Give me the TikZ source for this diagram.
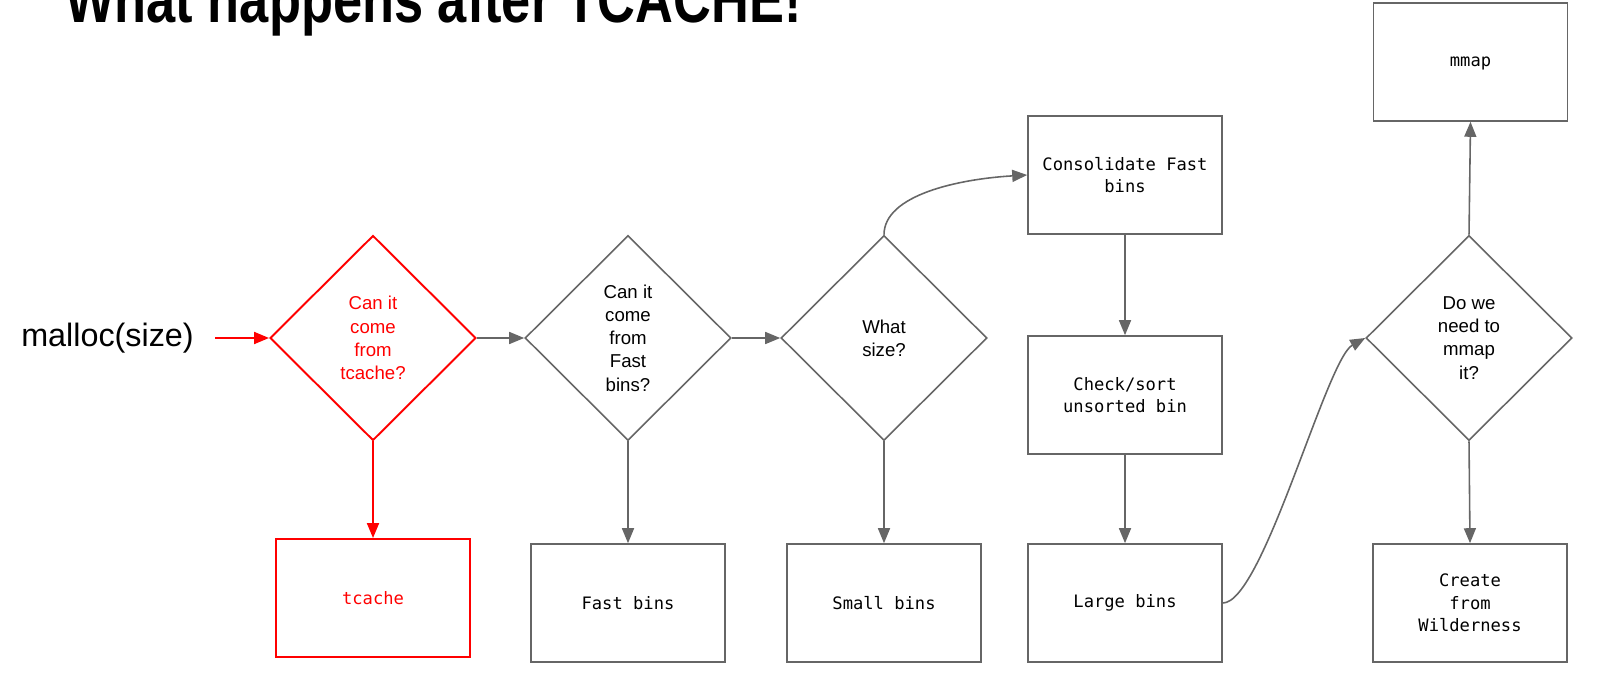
\documentclass[tikz,border=0pt]{standalone}
\usepackage{fontspec}
\setmainfont{Liberation Sans}
\newfontfamily\codefont{DejaVu Sans Mono}
\usetikzlibrary{arrows.meta,positioning,shapes.geometric}
\definecolor{linegray}{HTML}{666666}
\definecolor{alertred}{HTML}{FF0000}

\begin{document}
\begin{tikzpicture}[
  decision/.style={diamond,draw=linegray,line width=0.9pt,inner sep=0pt,
    minimum width=4.12cm,minimum height=4.10cm,align=center,
    font=\fontsize{10.6}{13.2}\selectfont},
  binbox/.style={rectangle,draw=linegray,line width=0.9pt,
    minimum width=3.88cm,minimum height=2.36cm,align=center,
    font=\codefont\fontsize{9.75}{12.9}\selectfont},
  flow/.style={-{Triangle[length=3mm,width=2.4mm]},linegray,line width=0.9pt}]
  \useasboundingbox (0,0) rectangle (32.34,13.82);
  \node[anchor=base west,inner sep=0pt] (title) at (1.30,13.36)
    {\scalebox{0.795}[1]{\fontsize{37.5}{40}\selectfont\bfseries What happens after TCACHE!}};
  \node[inner sep=0pt,font=\fontsize{18.4}{22}\selectfont] (malloc) at (2.15,7.06)
    {malloc(size)};
  % decisions
  \node[decision,draw=alertred,text=alertred,line width=1.1pt] (tcq) at (7.46,7.06)
    {Can it\\come\\from\\tcache?};
  \node[decision] (fastq) at (12.56,7.06) {Can it\\come\\from\\Fast\\bins?};
  \node[decision] (sizeq) at (17.68,7.06) {What\\size?};
  \node[decision] (mmapq) at (29.38,7.06) {Do we\\need to\\mmap\\it?};
  % bins and actions
  \node[binbox,draw=alertred,text=alertred,line width=1.1pt] (tcache) at (7.46,1.86)
    {tcache};
  \node[binbox] (fast) at (12.56,1.76) {Fast bins};
  \node[binbox] (small) at (17.68,1.76) {Small bins};
  \node[binbox] (consol) at (22.50,10.32) {Consolidate Fast\\bins};
  \node[binbox] (sortbin) at (22.50,5.92) {Check/sort\\unsorted bin};
  \node[binbox] (large) at (22.50,1.76) {Large bins};
  \node[binbox,text depth=0pt] (mmap) at (29.41,12.58) {mmap};
  \node[binbox] (wild) at (29.40,1.76) {Create\\from\\Wilderness};
  % connectors
  \draw[flow,alertred,line width=1.1pt,shorten <=4.2mm] (malloc.east) -- (tcq.west);
  \draw[flow,alertred,line width=1.1pt] (tcq.south) -- (tcache.north);
  \draw[flow] (tcq.east) -- (fastq.west);
  \draw[flow] (fastq.east) -- (sizeq.west);
  \draw[flow] (fastq.south) -- (fast.north);
  \draw[flow] (sizeq.south) -- (small.north);
  \draw[flow] (sizeq.north) .. controls +(0,0.8) and +(-1.36,-0.08) .. (consol.west);
  \draw[flow] (consol.south) -- (sortbin.north);
  \draw[flow] (sortbin.south) -- (large.north);
  \draw[flow] (large.east) .. controls +(0.8,0) and +(-0.78,-0.43) .. (mmapq.west);
  \draw[flow] (mmapq.north) -- (mmap.south);
  \draw[flow] (mmapq.south) -- (wild.north);
\end{tikzpicture}
\end{document}
